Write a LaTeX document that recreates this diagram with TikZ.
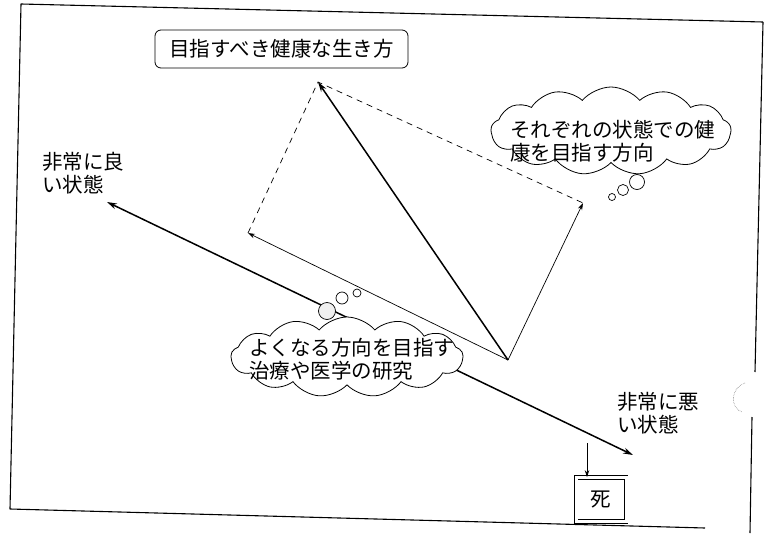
\documentclass[tikz,border=0pt]{standalone}
\usepackage{fontspec}
\newfontfamily\jp{Noto Sans CJK JP}
\usetikzlibrary{shapes.symbols,arrows.meta}
\begin{document}
\begin{tikzpicture}[x=1pt,y=-1pt,
 txt/.style={font=\jp\fontsize{20.5}{23}\selectfont, inner sep=0pt, align=left},
 thinarrow/.style={line width=0.7pt, -{Stealth[length=7pt,width=4.5pt]}},
 thickarrow/.style={line width=1.5pt, -{Stealth[length=10pt,width=6pt]}},
 botharrow/.style={line width=1.5pt, {Stealth[length=10pt,width=6pt]}-{Stealth[length=10pt,width=6pt]}},
 dashline/.style={line width=0.7pt, dash pattern=on 6pt off 5pt},
 thought/.style={cloud, draw, fill=white, line width=0.8pt, cloud puffs=13, cloud puff arc=100, inner sep=0pt},
 bubble/.style={circle, draw, fill=white, line width=0.7pt, inner sep=0pt},
 frameline/.style={line width=1.1pt, line join=round}
]
\useasboundingbox (0,0) rectangle (771,533);

% frame
\draw[frameline] (763,22) -- (21,4) -- (10,509) -- (705,528);
\draw[frameline] (763,22) -- (755,372);
\draw[frameline] (752,417) -- (750,533);
\draw[line width=0.6pt, densely dotted, gray] (745,383) .. controls (730,388) and (730,408) .. (742,412);

% title box
\node[draw, rounded corners=6pt, line width=0.8pt, minimum width=253pt, minimum height=38pt, txt] (goal) at (281.5,49) {目指すべき健康な生き方};

% main axis
\coordinate (good) at (107,202);
\coordinate (bad) at (633,455);
\draw[botharrow] (good) -- (bad);

% vectors
\coordinate (P) at (508,360);
\coordinate (T) at (318,82);
\coordinate (L) at (248,233);
\coordinate (R) at (583,203);
\draw[dashline] (L) -- (T) -- (R);
\draw[thinarrow] (P) -- (L);
\draw[thinarrow] (P) -- (R);
\draw[thickarrow] (P) -- (T);

% cloud 1
\node[thought, minimum width=240pt, minimum height=88pt] (c1) at (611,131) {};
\node[bubble, minimum size=15pt] (b11) at (637,182) {};
\node[bubble, minimum size=11pt] (b12) at (623,190) {};
\node[bubble, minimum size=7pt] (b13) at (612,197) {};
\node[txt, anchor=west] (c1t) at (510,141.5) {それぞれの状態での健\\康を目指す方向};

% cloud 2
\node[thought, minimum width=232pt, minimum height=80pt] (c2) at (347,357) {};
\node[bubble, minimum size=17pt, fill=gray!12] (b21) at (327,311) {};
\node[bubble, minimum size=12pt] (b22) at (342,298) {};
\node[bubble, minimum size=8pt] (b23) at (357,293) {};
\node[txt, anchor=west] (c2t) at (249,359) {よくなる方向を目指す\\治療や医学の研究};

% labels
\node[txt, anchor=west] (lgood) at (42,173.5) {非常に良\\い状態};
\node[txt, anchor=west] (lbad) at (617,413.5) {非常に悪\\い状態};

% death
\node[draw, line width=0.8pt, double, double distance=3pt, minimum width=50pt, minimum height=44pt, txt] (death) at (601,499.5) {死};
\coordinate (dtop) at (587,443);
\draw[thinarrow] (dtop) -- (dtop |- death.north);
\end{tikzpicture}
\end{document}
